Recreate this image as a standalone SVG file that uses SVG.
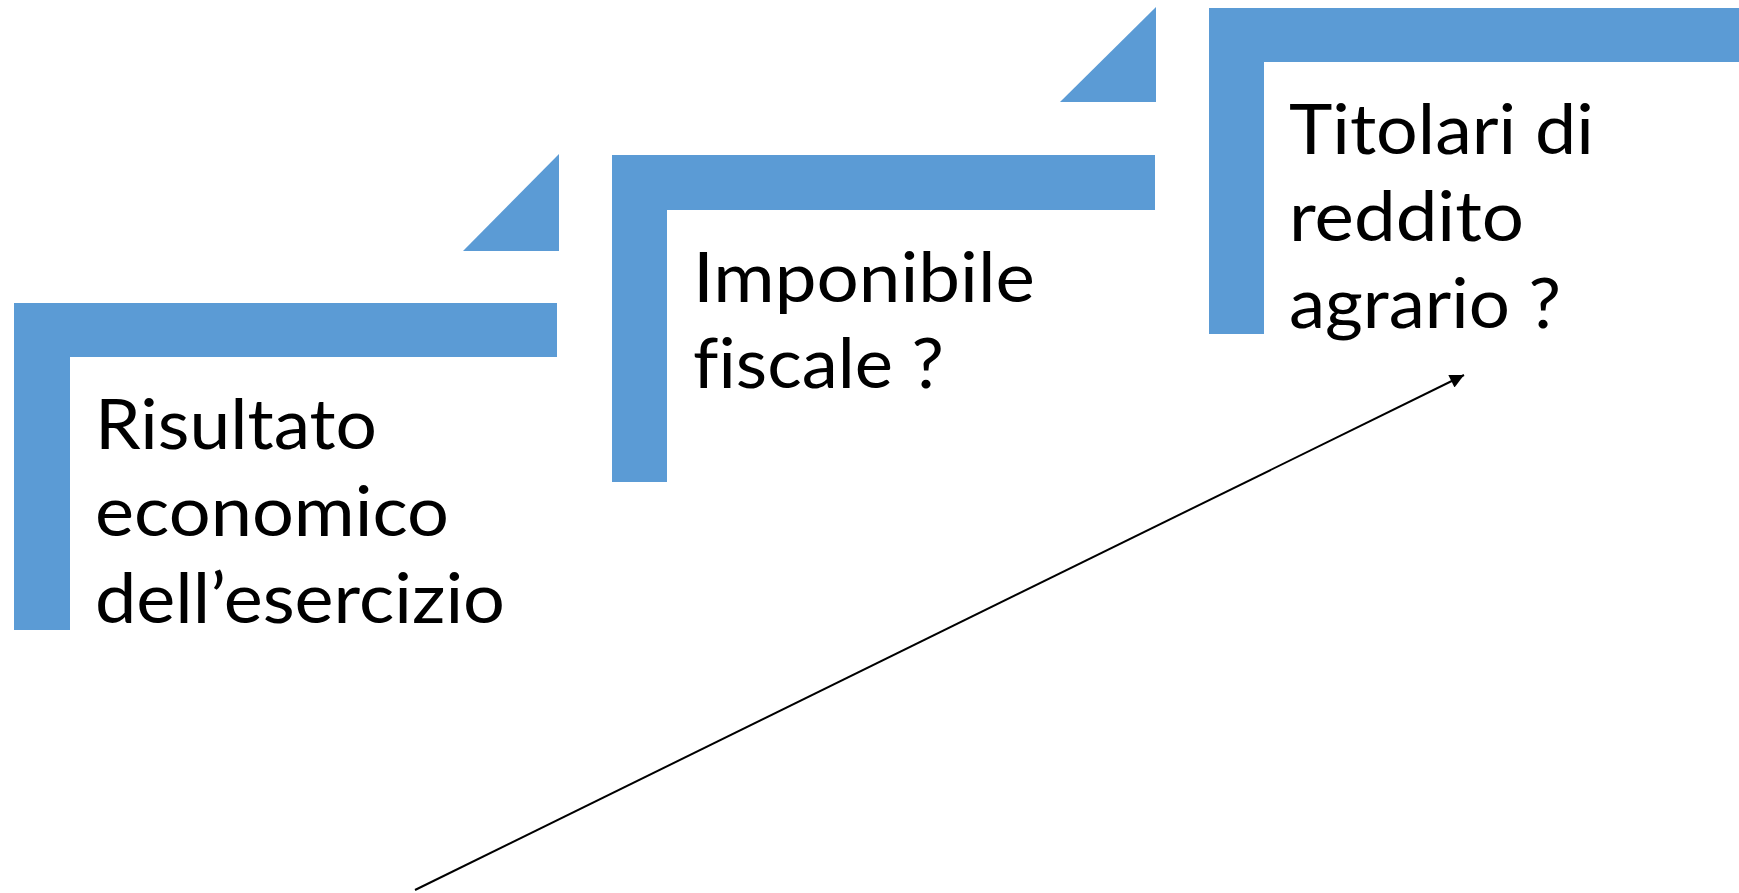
<svg xmlns="http://www.w3.org/2000/svg" width="1739" height="893" viewBox="0 0 1739 893">
<style>
.bar{fill:#5B9BD5}
.t{font-family:Lato,"Open Sans","Liberation Sans",sans-serif;font-size:70px;fill:#000;font-variant-ligatures:none;font-feature-settings:"liga" 0}
</style>
<defs>
<marker id="ah" viewBox="0 0 10 10" refX="10" refY="5" markerWidth="9" markerHeight="7" markerUnits="strokeWidth" orient="auto">
<path d="M0,0 L10,5 L0,10 z" fill="#000"/>
</marker>
</defs>
<rect width="1739" height="893" fill="#fff"/>
<g id="node1">
<path class="bar" d="M14,303 H557 V357 H70 V630 H14 Z"/>
<path class="bar" d="M463,251 L559,154 V251 Z"/>
<text class="t" x="95" y="449" textLength="282" lengthAdjust="spacingAndGlyphs">Risultato</text>
<text class="t" x="95" y="536" textLength="354" lengthAdjust="spacingAndGlyphs">economico</text>
<text class="t" x="95" y="623" textLength="410" lengthAdjust="spacingAndGlyphs">dell’esercizio</text>
</g>
<g id="node2">
<path class="bar" d="M612,155 H1155 V210 H667 V482 H612 Z"/>
<path class="bar" d="M1060,102 L1156,7 V102 Z"/>
<text class="t" x="693" y="302" textLength="342" lengthAdjust="spacingAndGlyphs">Imponibile</text>
<text class="t" x="693" y="388" textLength="251" lengthAdjust="spacingAndGlyphs">fiscale ?</text>
</g>
<g id="node3">
<path class="bar" d="M1209,8 H1739 V62 H1264 V334 H1209 Z"/>
<text class="t" x="1289" y="154" textLength="305" lengthAdjust="spacingAndGlyphs">Titolari di</text>
<text class="t" x="1289" y="241" textLength="235" lengthAdjust="spacingAndGlyphs">reddito</text>
<text class="t" x="1289" y="328" textLength="272" lengthAdjust="spacingAndGlyphs">agrario ?</text>
</g>
<g id="connectors">
<line x1="415" y1="890" x2="1464" y2="375" stroke="#000" stroke-width="2" marker-end="url(#ah)"/>
</g>
</svg>
